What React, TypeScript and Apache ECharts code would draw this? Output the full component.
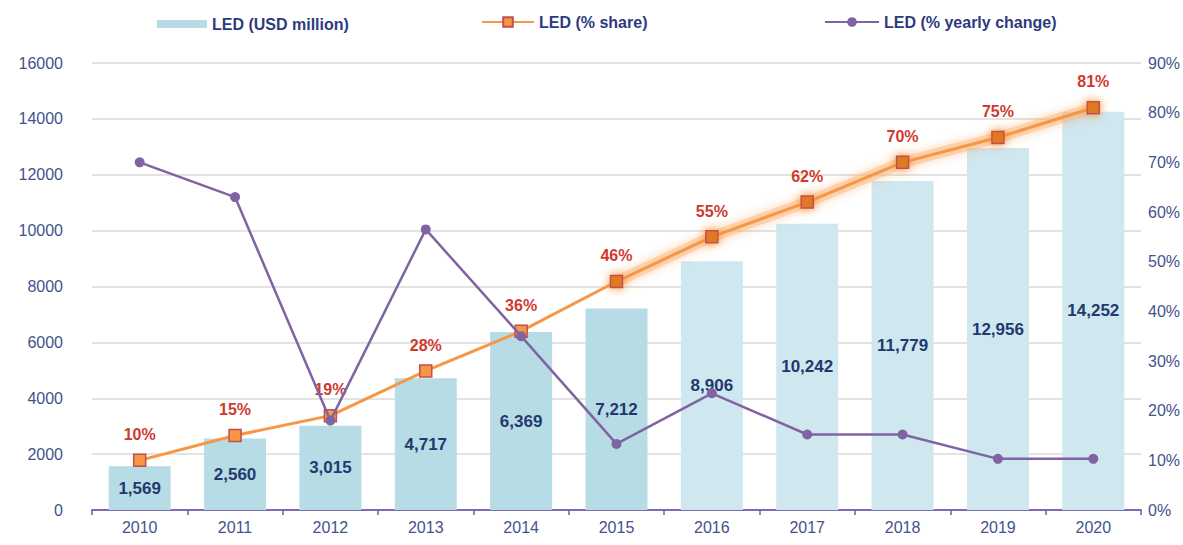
import React, { useEffect, useRef } from "react";
import * as echarts from "echarts";

const years = ["2010", "2011", "2012", "2013", "2014", "2015", "2016", "2017", "2018", "2019", "2020"];
const ledUsdMillion = [1569, 2560, 3015, 4717, 6369, 7212, 8906, 10242, 11779, 12956, 14252];
const ledShare = [10, 15, 19, 28, 36, 46, 55, 62, 70, 75, 81];
const ledYearlyChange = [70, 63, 18, 56.5, 35, 13.3, 23.5, 15.2, 15.2, 10.3, 10.3];
const leftTicks = { min: 0, max: 16000, interval: 2000 };
const rightTicks = { min: 0, max: 90, interval: 10 };

const NAVY = "#2d3b7e";
const FONT = "'Liberation Sans', Arial, sans-serif";

export default function App() {
  const ref = useRef<HTMLDivElement>(null);
  useEffect(() => {
    document.body.style.margin = "0";
    const chart = echarts.init(ref.current!, null, { renderer: "svg" });
    const legendText = { color: NAVY, fontWeight: "bold" as const, fontSize: 16, fontFamily: FONT };
    chart.setOption({
      animation: false,
      textStyle: { fontFamily: FONT },
      legend: [
        {
          left: 152, top: 11, itemWidth: 50, itemHeight: 8, itemGap: 8,
          data: [{ name: "LED (USD million)", icon: "rect" }],
          textStyle: legendText,
        },
        {
          left: 476, top: 9, itemWidth: 52, itemHeight: 12,
          data: [{ name: "LED (% share)" }],
          textStyle: legendText,
        },
        {
          left: 819, top: 9, itemWidth: 54, itemHeight: 12,
          data: [{ name: "LED (% yearly change)" }],
          textStyle: legendText,
        },
      ],
      grid: { left: 92, right: 42, top: 63, bottom: 35, containLabel: false },
      xAxis: {
        type: "category",
        data: years,
        axisLine: { lineStyle: { color: "#7d6bb6", width: 2 } },
        axisTick: { show: true, length: 5, lineStyle: { color: "#6f5fae", width: 1.5 } },
        axisLabel: { color: "#44528e", fontSize: 16, margin: 9 },
      },
      yAxis: [
        {
          type: "value",
          min: leftTicks.min, max: leftTicks.max, interval: leftTicks.interval,
          axisLine: { show: false },
          axisTick: { show: false },
          axisLabel: { color: "#44528e", fontSize: 16, margin: 29, formatter: (v: number) => String(v) },
          splitLine: { lineStyle: { color: "#dadada", width: 1.5 } },
        },
        {
          type: "value",
          min: rightTicks.min, max: rightTicks.max, interval: rightTicks.interval,
          axisLine: { show: false },
          axisTick: { show: false },
          splitLine: { show: false },
          axisLabel: { color: "#44528e", fontSize: 16, margin: 7, formatter: "{value}%" },
        },
      ],
      series: [
        {
          name: "LED (USD million)",
          type: "bar",
          barCategoryGap: "35%",
          itemStyle: { color: "#b7dce6" },
          data: ledUsdMillion.map((v, i) => ({
            value: v,
            itemStyle: { color: i >= 6 ? "#cfe7ef" : "#b7dce6" },
          })),
          label: {
            show: true,
            position: "inside",
            color: "#23386e",
            fontWeight: "bold",
            fontSize: 17,
            formatter: (p: any) => Number(p.value).toLocaleString("en-US"),
          },
          z: 1,
        },
        {
          name: "glow",
          type: "line",
          yAxisIndex: 1,
          silent: true,
          symbol: "none",
          data: ledShare.map((v, i) => (i >= 5 ? v : "-")),
          lineStyle: {
            width: 11,
            color: "rgba(250,185,120,0.45)",
            shadowBlur: 10,
            shadowColor: "rgba(247,150,70,0.9)",
          },
          z: 2,
        },
        {
          name: "LED (% share)",
          type: "line",
          yAxisIndex: 1,
          symbol: "rect",
          symbolSize: 12,
          data: ledShare.map((v, i) => ({
            value: v,
            itemStyle:
              i >= 5
                ? { color: "#e07a22", borderColor: "#c0504d", borderWidth: 1.5, shadowBlur: 10, shadowColor: "rgba(247,140,50,1)" }
                : { color: "#f79646", borderColor: "#c0504d", borderWidth: 1.5 },
          })),
          lineStyle: { color: "#f79646", width: 3 },
          itemStyle: { color: "#f79646", borderColor: "#c0504d", borderWidth: 1.5 },
          label: {
            show: true,
            position: "top",
            distance: 11,
            color: "#cf3a2f",
            fontWeight: "bold",
            fontSize: 16,
            formatter: "{c}%",
          },
          z: 3,
        },
        {
          name: "LED (% yearly change)",
          type: "line",
          yAxisIndex: 1,
          symbol: "circle",
          symbolSize: 10,
          data: ledYearlyChange,
          lineStyle: { color: "#8064a2", width: 2.5 },
          itemStyle: { color: "#8064a2" },
          z: 4,
        },
      ],
    });
    return () => chart.dispose();
  }, []);
  return <div ref={ref} style={{ width: 1183, height: 545 }} />;
}
